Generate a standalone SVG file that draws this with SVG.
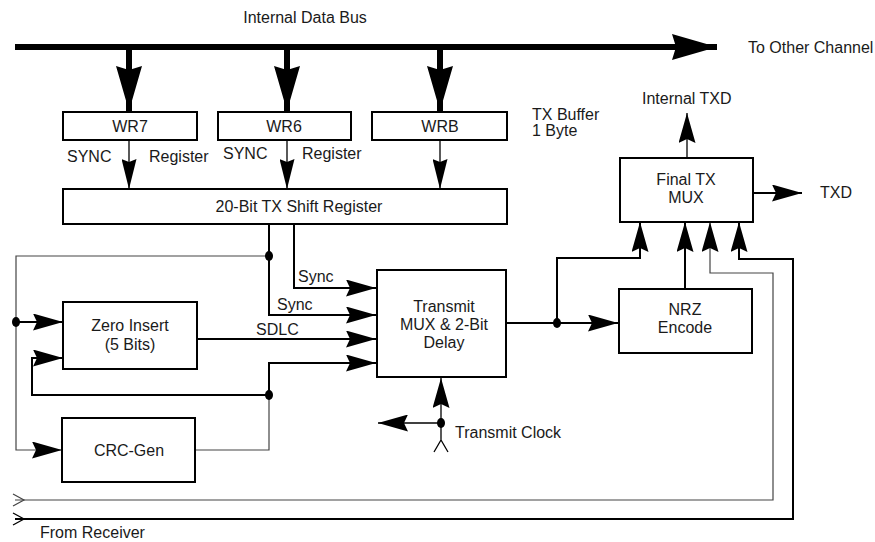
<svg xmlns="http://www.w3.org/2000/svg" width="875" height="542" viewBox="0 0 875 542">
<style>
  text { font-family: "Liberation Sans", Arial, sans-serif; font-size: 16px; fill: #1a1a1a; }
  .c { text-anchor: middle; }
  .box { fill: #fff; stroke: #000; stroke-width: 2; }
  .thick { fill: none; stroke: #000; stroke-width: 2; }
  .thin { fill: none; stroke: #444; stroke-width: 1.2; }
  .thinb { fill: none; stroke: #000; stroke-width: 1.3; }
  .bus { fill: none; stroke: #000; stroke-width: 6; }
  .dot { fill: #000; }
</style>
<defs>
  <marker id="big" markerUnits="userSpaceOnUse" viewBox="0 0 45 26" refX="45" refY="13" markerWidth="45" markerHeight="26" orient="auto">
    <path d="M45,13 L0,0 L4,13 L0,26 Z" fill="#000"/>
  </marker>
  <marker id="med" markerUnits="userSpaceOnUse" viewBox="0 0 30 17" refX="30" refY="8.5" markerWidth="30" markerHeight="17" orient="auto">
    <path d="M30,8.5 L0,0 L4,8.5 L0,17 Z" fill="#000"/>
  </marker>
  <marker id="sml" markerUnits="userSpaceOnUse" viewBox="0 0 30 15" refX="30" refY="7.5" markerWidth="30" markerHeight="15" orient="auto">
    <path d="M30,7.5 L0,0 L3,7.5 L0,15 Z" fill="#000"/>
  </marker>
</defs>

<g id="labels">
  <text class="c" x="305" y="23">Internal Data Bus</text>
  <text x="748" y="53">To Other Channel</text>
  <text x="532" y="120">TX Buffer</text>
  <text x="532" y="136">1 Byte</text>
  <text x="67" y="162">SYNC</text>
  <text x="149" y="162">Register</text>
  <text x="223" y="159">SYNC</text>
  <text x="302" y="159">Register</text>
  <text x="298" y="282">Sync</text>
  <text x="277" y="310">Sync</text>
  <text x="256" y="335">SDLC</text>
  <text x="820" y="198">TXD</text>
  <text x="642" y="104">Internal TXD</text>
  <text x="455" y="438">Transmit Clock</text>
  <text x="40" y="538">From Receiver</text>
</g>

<g id="connectors">
  <line class="bus" x1="15" y1="47" x2="717" y2="47" marker-end="url(#big)"/>
  <line class="bus" x1="129" y1="47" x2="129" y2="111" marker-end="url(#big)"/>
  <line class="bus" x1="287" y1="47" x2="287" y2="111" marker-end="url(#big)"/>
  <line class="bus" x1="440" y1="47" x2="440" y2="111" marker-end="url(#big)"/>

  <line class="thinb" x1="129" y1="140" x2="129" y2="189" marker-end="url(#sml)"/>
  <line class="thinb" x1="287" y1="140" x2="287" y2="189" marker-end="url(#sml)"/>
  <line class="thinb" x1="440" y1="140" x2="440" y2="189" marker-end="url(#sml)"/>

  <path class="thick" d="M294,224 V288 H376" marker-end="url(#med)"/>
  <path class="thick" d="M269,224 V315 H376" marker-end="url(#med)"/>
  <path class="thin" d="M269,256 H16 V450 H62" marker-end="url(#med)"/>
  <path class="thick" d="M16,322 H63" marker-end="url(#med)"/>
  <path class="thick" d="M197,339 H376" marker-end="url(#med)"/>
  <path class="thin" d="M196,450 H269 V395"/>
  <path class="thick" d="M269,395 V363 H376" marker-end="url(#med)"/>
  <path class="thick" d="M269,395 H32 V358 H63" marker-end="url(#med)"/>

  <path class="thick" d="M506,323 H618" marker-end="url(#med)"/>
  <path class="thick" d="M557,323 V258 H640 V222" marker-end="url(#med)"/>
  <path class="thick" d="M685,289 V222" marker-end="url(#med)"/>
  <path class="thin" d="M15,500 H773 V273 H710 V222" marker-end="url(#med)"/>
  <path class="thick" d="M15,519 H793 V259 H739 V222" marker-end="url(#med)"/>
  <polyline class="thin" points="13,494 24,500 13,506"/>
  <polyline class="thinb" points="13,513 24,519 13,525"/>

  <path class="thick" d="M753,193 H802" marker-end="url(#med)"/>
  <path class="thinb" d="M687,158 V113" marker-end="url(#med)"/>

  <path class="thinb" d="M441,423 V378" marker-end="url(#med)"/>
  <path class="thinb" d="M441,423 H378" marker-end="url(#med)"/>
  <path class="thinb" d="M441,423 V441 M434,452 L441,440 L448,452"/>

  <ellipse class="dot" cx="269" cy="256" rx="4" ry="5"/>
  <ellipse class="dot" cx="16" cy="322" rx="4" ry="5"/>
  <ellipse class="dot" cx="269" cy="395" rx="4" ry="5"/>
  <ellipse class="dot" cx="557" cy="323" rx="4" ry="5"/>
  <ellipse class="dot" cx="441" cy="423" rx="4" ry="5"/>
</g>

<g id="wr7"><rect class="box" x="63" y="112" width="134" height="28"/><text class="c" x="130" y="132">WR7</text></g>
<g id="wr6"><rect class="box" x="218" y="112" width="133" height="28"/><text class="c" x="284" y="132">WR6</text></g>
<g id="wrb"><rect class="box" x="372" y="112" width="135" height="28"/><text class="c" x="440" y="132">WRB</text></g>
<g id="shiftreg"><rect class="box" x="63" y="189" width="444" height="35"/><text class="c" x="299" y="212">20-Bit TX Shift Register</text></g>
<g id="zeroinsert"><rect class="box" x="63" y="302" width="134" height="67"/><text class="c" x="130" y="331">Zero Insert</text><text class="c" x="130" y="350">(5 Bits)</text></g>
<g id="crcgen"><rect class="box" x="62" y="418" width="133" height="64"/><text class="c" x="129" y="456">CRC-Gen</text></g>
<g id="txmux"><rect class="box" x="377" y="270" width="129" height="107"/><text class="c" x="444" y="312">Transmit</text><text class="c" x="444" y="330">MUX &amp; 2-Bit</text><text class="c" x="444" y="348">Delay</text></g>
<g id="nrz"><rect class="box" x="619" y="289" width="133" height="64"/><text class="c" x="685" y="315">NRZ</text><text class="c" x="685" y="333">Encode</text></g>
<g id="finalmux"><rect class="box" x="620" y="158" width="133" height="64"/><text class="c" x="686" y="185">Final TX</text><text class="c" x="686" y="203">MUX</text></g>
</svg>
